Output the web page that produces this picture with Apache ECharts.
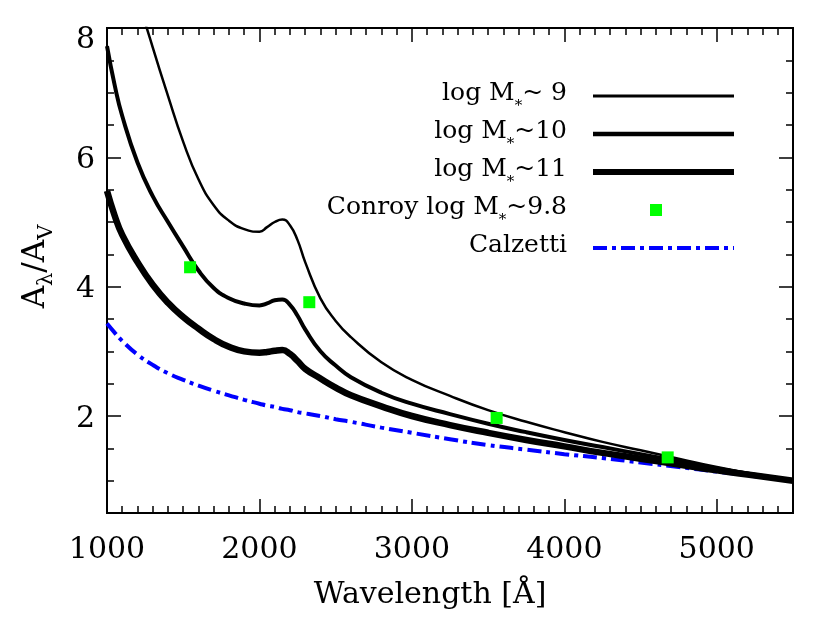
<!DOCTYPE html>
<html>
<head>
<meta charset="utf-8">
<script src="https://cdn.jsdelivr.net/npm/echarts@6/dist/echarts.min.js"></script>
<style>
  html, body { margin: 0; padding: 0; background: #fff; }
  #chart { width: 830px; height: 633px; }
</style>
</head>
<body>
<div id="chart"></div>
<script>
// wavelength grid in Angstrom
const wavelength = [1000, 1050, 1100, 1200, 1300, 1400, 1500, 1600, 1700, 1800, 1900, 2000, 2050, 2100, 2150, 2200, 2250, 2300,
  2400, 2500, 2600, 2800, 3000, 3250, 3500, 3750, 4000, 4250, 4500, 4750, 5000, 5250, 5500]

// A_lambda / A_V
const logM9 = [10.7, 10.1, 9.5, 8.5, 7.7, 6.95, 6.24, 5.66, 5.26, 5.02, 4.89, 4.85, 4.92, 5.0, 5.04, 4.95, 4.72, 4.38,
  3.82, 3.47, 3.22, 2.83, 2.56, 2.31, 2.09, 1.91, 1.75, 1.6, 1.47, 1.34, 1.21, 1.1, 1.0]
const logM10 = [7.72, 7.12, 6.64, 5.92, 5.4, 5.0, 4.62, 4.25, 3.98, 3.82, 3.74, 3.71, 3.74, 3.79, 3.8, 3.72, 3.55, 3.34,
  3.0, 2.78, 2.6, 2.36, 2.19, 2.03, 1.88, 1.75, 1.63, 1.52, 1.41, 1.3, 1.19, 1.09, 1.0]
const logM11 = [5.48, 5.1, 4.8, 4.38, 4.03, 3.75, 3.53, 3.35, 3.19, 3.07, 3.0, 2.98, 2.99, 3.01, 3.02, 2.96, 2.85, 2.73,
  2.58, 2.44, 2.32, 2.15, 2.0, 1.86, 1.74, 1.63, 1.53, 1.43, 1.34, 1.25, 1.16, 1.08, 1.0]
const calzetti = [3.43, 3.29, 3.16, 2.95, 2.79, 2.66, 2.56, 2.47, 2.39, 2.32, 2.25, 2.19, 2.16, 2.14, 2.11, 2.09, 2.06, 2.04,
  2.0, 1.95, 1.91, 1.82, 1.74, 1.64, 1.55, 1.48, 1.41, 1.35, 1.28, 1.21, 1.14, 1.07, 1.0]

const conroyWl = [1545, 2327, 3556, 4678]
const conroyVal = [4.3, 3.76, 1.97, 1.36]

const yMajor = [2, 4, 6, 8]

const legendText = {
  'M9': '{a|log M}{s|*}{a|~ 9}',
  'M10': '{a|log M}{s|*}{a|~10}',
  'M11': '{a|log M}{s|*}{a|~11}',
  'Conroy': '{a|Conroy log M}{s|*}{a|~9.8}',
  'Calzetti': '{a|Calzetti}'
}

const font = 'DejaVu Serif'

function pairs(xs, ys) {
  return xs.map((x, i) => [x, ys[i]])
}

function xAx(pos, interval, len, withLabel) {
  return {
    type: 'value', position: pos, min: 1000, max: 5500, interval: interval,
    axisLine: { show: true, onZero: false, lineStyle: { color: '#000', width: 2 } },
    axisTick: { inside: true, length: len, lineStyle: { color: '#000', width: 1.5 } },
    axisLabel: withLabel ? {
      fontFamily: font, fontSize: 30, color: '#000', margin: 22, showMaxLabel: false,
      formatter: (v) => String(v)
    } : { show: false },
    splitLine: { show: false }
  }
}

function yAx(pos, major, withLabel) {
  const ax = {
    type: 'value', position: pos, min: 0.5, max: 8,
    axisLine: { show: true, onZero: false, lineStyle: { color: '#000', width: 2 } },
    axisTick: { inside: true, length: major ? 14 : 7, lineStyle: { color: '#000', width: 1.5 } },
    axisLabel: { show: false },
    splitLine: { show: false }
  }
  if (major) {
    ax.axisTick.customValues = yMajor
    if (withLabel) {
      ax.axisLabel = {
        show: true, customValues: yMajor, margin: 12,
        // IDL puts the labels a bit below the ticks, the top one most
        formatter: (v) => (v === 8 ? '{top|8}' : '{n|' + v + '}'),
        rich: {
          n: { fontFamily: font, fontSize: 30, color: '#000', padding: [6, 0, 0, 0] },
          top: { fontFamily: font, fontSize: 30, color: '#000', padding: [24, 0, 0, 0] }
        }
      }
    }
  } else {
    ax.interval = 0.5
  }
  return ax
}

const chart = echarts.init(document.getElementById('chart'))

const xBottom = xAx('bottom', 1000, 14, true)
xBottom.name = 'Wavelength [Å]'
xBottom.nameLocation = 'middle'
xBottom.nameGap = 67
xBottom.nameTextStyle = { fontFamily: font, fontSize: 30, color: '#000', padding: [0, 40, 0, 0] }

const yLeft = yAx('left', true, true)
yLeft.name = '{a|A}{s|λ}{a|/A}{s|V}'
yLeft.nameLocation = 'middle'
yLeft.nameGap = 50
yLeft.nameTextStyle = {
  padding: [0, 0, 0, 8],
  rich: {
    a: { fontFamily: font, fontSize: 31, color: '#000', lineHeight: 42 },
    s: { fontFamily: font, fontSize: 21, color: '#000', lineHeight: 21, verticalAlign: 'bottom' }
  }
}

chart.setOption({
  animation: false,
  backgroundColor: '#fff',
  grid: { left: 107, right: 37, top: 28, bottom: 120 },
  xAxis: [
    xBottom,
    xAx('bottom', 100, 7, false),
    xAx('top', 1000, 14, false),
    xAx('top', 100, 7, false)
  ],
  yAxis: [
    yLeft,
    yAx('left', false),
    yAx('right', true, false),
    yAx('right', false)
  ],
  legend: {
    orient: 'vertical',
    right: 93,
    top: 81,
    padding: 0,
    align: 'right',
    itemWidth: 141,
    itemHeight: 14,
    itemGap: 5,
    selectedMode: false,
    data: [
      { name: 'M9', lineStyle: { width: 3 }, itemStyle: { opacity: 0 } },
      { name: 'M10', lineStyle: { width: 4.5 }, itemStyle: { opacity: 0 } },
      { name: 'M11', lineStyle: { width: 6 }, itemStyle: { opacity: 0 } },
      { name: 'Conroy', icon: 'path://M0,0M141,14M57,1h12v12h-12z' },
      { name: 'Calzetti', lineStyle: { width: 4 }, itemStyle: { opacity: 0 } }
    ],
    formatter: (n) => legendText[n],
    textStyle: {
      padding: [0, 21, 0, 0],
      rich: {
        a: { fontFamily: font, fontSize: 25, color: '#000', lineHeight: 30, verticalAlign: 'top' },
        s: { fontFamily: font, fontSize: 15, color: '#000', lineHeight: 15, verticalAlign: 'top', padding: [18, 0, 0, 0] }
      }
    }
  },
  series: [
    {
      name: 'Calzetti', type: 'line', data: pairs(wavelength, calzetti),
      symbol: 'none', smooth: 0.5, z: 2,
      itemStyle: { color: '#0000ff' },
      lineStyle: { color: '#0000ff', width: 4, type: [14, 5, 4, 5] }
    },
    {
      name: 'M9', type: 'line', data: pairs(wavelength, logM9),
      symbol: 'none', smooth: 0.5, z: 3,
      itemStyle: { color: '#000' },
      lineStyle: { color: '#000', width: 2.5 }
    },
    {
      name: 'M10', type: 'line', data: pairs(wavelength, logM10),
      symbol: 'none', smooth: 0.5, z: 3,
      itemStyle: { color: '#000' },
      lineStyle: { color: '#000', width: 4 }
    },
    {
      name: 'M11', type: 'line', data: pairs(wavelength, logM11),
      symbol: 'none', smooth: 0.5, z: 3,
      itemStyle: { color: '#000' },
      lineStyle: { color: '#000', width: 6.5 }
    },
    {
      name: 'Conroy', type: 'scatter', data: pairs(conroyWl, conroyVal),
      symbol: 'rect', symbolSize: 12, z: 5,
      itemStyle: { color: '#00ff00', opacity: 1 }
    }
  ]
})
</script>
</body>
</html>
